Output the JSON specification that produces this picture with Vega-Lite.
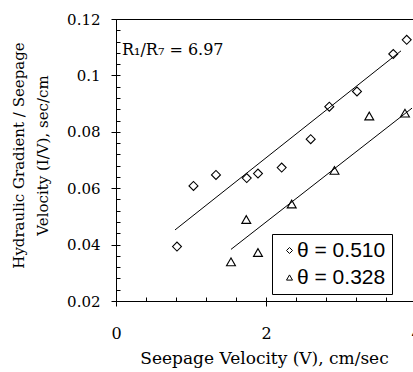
{
  "$schema": "https://vega.github.io/schema/vega-lite/v6.json",
  "width": 300,
  "height": 282,
  "autosize": {"type": "none"},
  "padding": {"left": 116, "top": 19, "right": -3, "bottom": 71},
  "background": "white",
  "config": {
    "view": {"stroke": "black", "strokeWidth": 1},
    "font": "DejaVu Serif",
    "axis": {"grid": false, "domainColor": "black", "tickColor": "black", "labelColor": "black", "titleColor": "black", "domainWidth": 1, "tickWidth": 1}
  },
  "datasets": {
    "points": [
      {"series": "θ = 0.510", "x": 0.813, "y": 0.0393},
      {"series": "θ = 0.510", "x": 1.033, "y": 0.0608},
      {"series": "θ = 0.510", "x": 1.333, "y": 0.0647},
      {"series": "θ = 0.510", "x": 1.743, "y": 0.0636},
      {"series": "θ = 0.510", "x": 1.893, "y": 0.0652},
      {"series": "θ = 0.510", "x": 2.209, "y": 0.0673},
      {"series": "θ = 0.510", "x": 2.596, "y": 0.0774},
      {"series": "θ = 0.510", "x": 2.844, "y": 0.0889},
      {"series": "θ = 0.510", "x": 3.213, "y": 0.0943},
      {"series": "θ = 0.510", "x": 3.697, "y": 0.1076},
      {"series": "θ = 0.510", "x": 3.876, "y": 0.1126},
      {"series": "θ = 0.328", "x": 1.533, "y": 0.0339},
      {"series": "θ = 0.328", "x": 1.737, "y": 0.0489},
      {"series": "θ = 0.328", "x": 1.893, "y": 0.0372},
      {"series": "θ = 0.328", "x": 2.343, "y": 0.0544},
      {"series": "θ = 0.328", "x": 2.913, "y": 0.0663},
      {"series": "θ = 0.328", "x": 3.377, "y": 0.0856},
      {"series": "θ = 0.328", "x": 3.853, "y": 0.0866}
    ],
    "fits": [
      {"series": "θ = 0.510", "x": 0.787, "y": 0.0452},
      {"series": "θ = 0.510", "x": 3.80, "y": 0.1087},
      {"series": "θ = 0.328", "x": 1.533, "y": 0.0383},
      {"series": "θ = 0.328", "x": 3.947, "y": 0.0884}
    ],
    "notes": [
      {"x": 0.08, "y": 0.1072, "label": "R₁/R₇ = 6.97"}
    ]
  },
  "layer": [
    {
      "data": {"name": "points"},
      "mark": {"type": "point", "filled": false, "color": "black", "strokeWidth": 1.1, "opacity": 1, "size": 80},
      "encoding": {
        "x": {"field": "x", "type": "quantitative",
          "scale": {"domain": [0, 4], "nice": false, "zero": false},
          "axis": {"orient": "bottom", "values": [0, 2, 4], "tickSize": 5, "labelFlush": false, "labelOverlap": false, "labelBound": false, "labelFont": "DejaVu Serif", "labelFontSize": 16, "labelPadding": 19,
            "title": "Seepage Velocity (V), cm/sec", "titleFont": "DejaVu Serif", "titleFontSize": 17, "titleFontWeight": "normal", "titleBaseline": "alphabetic", "titleY": 62, "titleX": 148}},
        "y": {"field": "y", "type": "quantitative",
          "scale": {"domain": [0.02, 0.12], "nice": false, "zero": false},
          "axis": {"orient": "left", "values": [0.02, 0.04, 0.06, 0.08, 0.1, 0.12], "labelExpr": "format(datum.value, '.2~f')", "tickSize": 5, "labelFont": "DejaVu Serif", "labelFontSize": 15, "labelPadding": 11, "labelFlush": false, "labelOverlap": false,
            "title": ["Hydraulic Gradient / Seepage", "Velocity (I/V), sec/cm"], "titleFont": "DejaVu Serif", "titleFontSize": 15, "titleFontWeight": "normal", "titleAngle": -90, "titleBaseline": "middle", "titleAlign": "center", "titleLineHeight": 24, "titleX": -98, "titleY": 136}},
        "shape": {"field": "series", "type": "nominal",
          "scale": {"domain": ["θ = 0.510", "θ = 0.328"], "range": ["diamond", "triangle-up"]},
          "legend": {"orient": "none", "legendX": 156, "legendY": 215, "title": null, "strokeColor": "black", "fillColor": "white", "padding": 6, "symbolOffset": 1, "symbolSize": 36, "symbolStrokeWidth": 1, "symbolStrokeColor": "black", "labelFont": "Liberation Sans", "labelFontSize": 21, "labelColor": "black", "labelOffset": -3, "rowPadding": 5}}
      }
    },
    {
      "data": {"name": "fits"},
      "mark": {"type": "line", "color": "black", "strokeWidth": 1},
      "encoding": {
        "x": {"field": "x", "type": "quantitative",
          "scale": {"domain": [0, 4], "nice": false, "zero": false},
          "axis": {"orient": "top", "offset": -282, "values": [0.4, 0.8, 1.2, 1.6, 2, 2.4, 2.8, 3.2, 3.6], "tickSize": 4, "labels": false, "domain": false, "title": null}},
        "y": {"field": "y", "type": "quantitative",
          "scale": {"domain": [0.02, 0.12], "nice": false, "zero": false},
          "axis": {"orient": "right", "offset": -300, "values": [0.024, 0.028, 0.032, 0.036, 0.04, 0.044, 0.048, 0.052, 0.056, 0.06, 0.064, 0.068, 0.072, 0.076, 0.08, 0.084, 0.088, 0.092, 0.096, 0.1, 0.104, 0.108, 0.112, 0.116, 0.12], "tickSize": 4, "labels": false, "domain": false, "title": null}},
        "detail": {"field": "series", "type": "nominal"}
      }
    },
    {
      "data": {"name": "notes"},
      "mark": {"type": "text", "align": "left", "baseline": "alphabetic", "font": "DejaVu Serif", "fontSize": 16, "color": "black"},
      "encoding": {
        "x": {"field": "x", "type": "quantitative", "scale": {"domain": [0, 4], "nice": false, "zero": false}, "axis": null},
        "y": {"field": "y", "type": "quantitative", "scale": {"domain": [0.02, 0.12], "nice": false, "zero": false}, "axis": null},
        "text": {"field": "label", "type": "nominal"}
      }
    }
  ],
  "resolve": {"axis": {"x": "independent", "y": "independent"}}
}
